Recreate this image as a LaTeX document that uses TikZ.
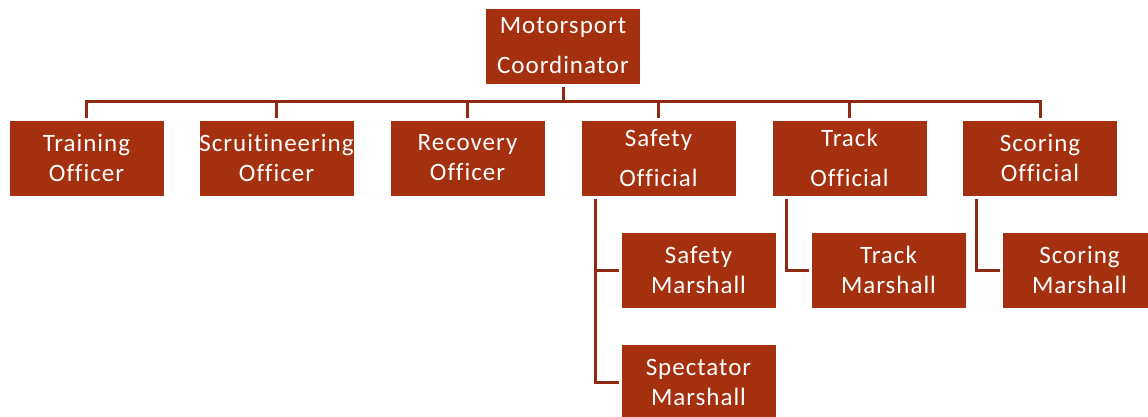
\documentclass[tikz,border=0pt]{standalone}
\usepackage{fontspec}
\setmainfont{Carlito}[Ligatures=NoCommon,LetterSpace=4]
\definecolor{rust}{HTML}{A5300F}
\definecolor{rustline}{HTML}{8E2A13}

\begin{document}
\begin{tikzpicture}[x=1pt,y=-1pt,
	post/.style={draw=white, line width=1pt, fill=rust, text=white,
		minimum width=155pt, minimum height=76pt, inner sep=0pt,
		outer sep=2.5pt, align=center, font=\fontsize{25}{30}\selectfont},
	roomy/.style={font=\fontsize{25}{40}\selectfont},
	link/.style={draw=rustline, line width=3pt}]
	\useasboundingbox (0,0) rectangle (1148,416);
	% top
	\node[post,roomy] (coord) at (563,46) {Motorsport\\Coordinator};
	\coordinate (bus) at (0,101);
	% officers and officials
	\node[post] (train) at (86.5,158) {Training\\Officer};
	\node[post] (scrut) at (276.5,158) {Scruitineering\\Officer};
	\node[post] (recov) at (467.5,158) {Recovery\\Officer};
	\node[post,roomy] (safety) at (658.5,158) {Safety\\Official};
	\node[post,roomy] (track) at (849.5,158) {Track\\Official};
	\node[post] (score) at (1040,158) {Scoring\\Official};
	% marshalls
	\node[post] (safemar) at (698.5,270) {Safety\\Marshall};
	\node[post] (specmar) at (698.5,382) {Spectator\\Marshall};
	\node[post] (trackmar) at (888.5,270) {Track\\Marshall};
	\node[post] (scoremar) at (1079.5,270) {Scoring\\Marshall};
	% links
	\draw[link] (coord) -- (coord |- bus);
	\draw[link] (train) -- (train |- bus) -- (score |- bus) -- (score);
	\foreach \n in {scrut,recov,safety,track}
		\draw[link] (\n |- bus) -- (\n);
	\draw[link] ([xshift=16.5pt]safety.south west) |- (safemar);
	\draw[link] ([xshift=16.5pt]safety.south west) |- (specmar);
	\draw[link] ([xshift=16.5pt]track.south west) |- (trackmar);
	\draw[link] ([xshift=16.5pt]score.south west) |- (scoremar);
\end{tikzpicture}
\end{document}
